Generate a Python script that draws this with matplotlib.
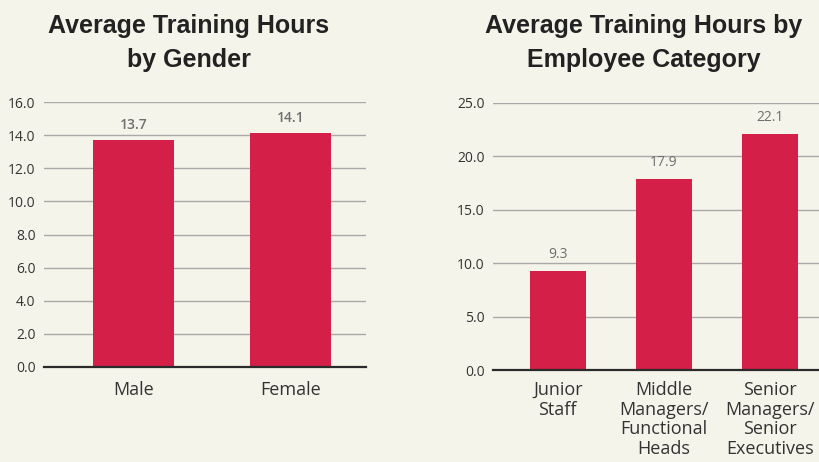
import matplotlib
matplotlib.use("Agg")
import matplotlib.pyplot as plt

gender_cats = ["Male", "Female"]
gender_vals = [13.7, 14.1]
cat_labels = ["Junior\nStaff", "Middle\nManagers/\nFunctional\nHeads", "Senior\nManagers/\nSenior\nExecutives"]
cat_vals = [9.3, 17.9, 22.1]
gender_ticks = [0, 2, 4, 6, 8, 10, 12, 14, 16]
cat_ticks = [0, 5, 10, 15, 20, 25]

BG = "#f5f4ea"
BAR = "#d41f48"
GRID = "#a9a9a9"
TXT = "#333333"
VAL = "#6e6e6e"
FONT = "Open Sans"
TFONT = "Liberation Sans"

fig = plt.figure(figsize=(8.2, 4.62), dpi=100, facecolor=BG)

def style(ax, ticks, ymax):
    ax.set_facecolor(BG)
    ax.set_ylim(0, ymax)
    ax.set_yticks(ticks)
    ax.set_yticklabels([f"{t:.1f}" for t in ticks], fontsize=10, color=TXT, family=FONT)
    ax.yaxis.grid(True, color=GRID, lw=1)
    ax.set_axisbelow(True)
    for s in ["top", "right", "left"]:
        ax.spines[s].set_visible(False)
    ax.spines["bottom"].set_color("#2b2b2b")
    ax.spines["bottom"].set_linewidth(1.6)
    ax.spines["bottom"].set_zorder(5)
    ax.tick_params(axis="y", length=0, pad=6)
    ax.tick_params(axis="x", length=0, pad=10)

ax1 = fig.add_axes([44/820, 95/462, 322/820, 265/462])
x1 = list(range(len(gender_cats)))
ax1.bar(x1, gender_vals, width=0.52, color=BAR, zorder=3)
ax1.set_xlim(-0.57, 1.48)
style(ax1, gender_ticks, 16)
ax1.set_xticks(x1)
ax1.set_xticklabels(gender_cats, fontsize=13, color=TXT, family=FONT)
for xi, v in zip(x1, gender_vals):
    ax1.text(xi, v + 0.5, f"{v:.1f}", ha="center", va="bottom", fontsize=10,
             color=VAL, family=FONT, fontweight="semibold")

ax2 = fig.add_axes([493/820, 92/462, 327/820, 267/462])
x2 = list(range(len(cat_labels)))
ax2.bar(x2, cat_vals, width=0.53, color=BAR, zorder=3)
ax2.set_xlim(-0.61, 2.47)
style(ax2, cat_ticks, 25)
ax2.set_xticks(x2)
ax2.set_xticklabels(cat_labels, fontsize=13, color=TXT, family=FONT, linespacing=1.12, va="top")
ax2.tick_params(axis="x", pad=8)
for xi, v in zip(x2, cat_vals):
    ax2.text(xi, v + 0.8, f"{v:.1f}", ha="center", va="bottom", fontsize=10,
             color=VAL, family=FONT)

fig.text(189/820, 1 - 43/462, "Average Training Hours\nby Gender", ha="center", va="center",
         fontsize=18, fontweight="bold", color="#222222", family=TFONT, linespacing=1.5)
fig.text(644/820, 1 - 43/462, "Average Training Hours by\nEmployee Category", ha="center", va="center",
         fontsize=18, fontweight="bold", color="#222222", family=TFONT, linespacing=1.5)

fig.savefig("out.png", dpi=100, facecolor=BG)
